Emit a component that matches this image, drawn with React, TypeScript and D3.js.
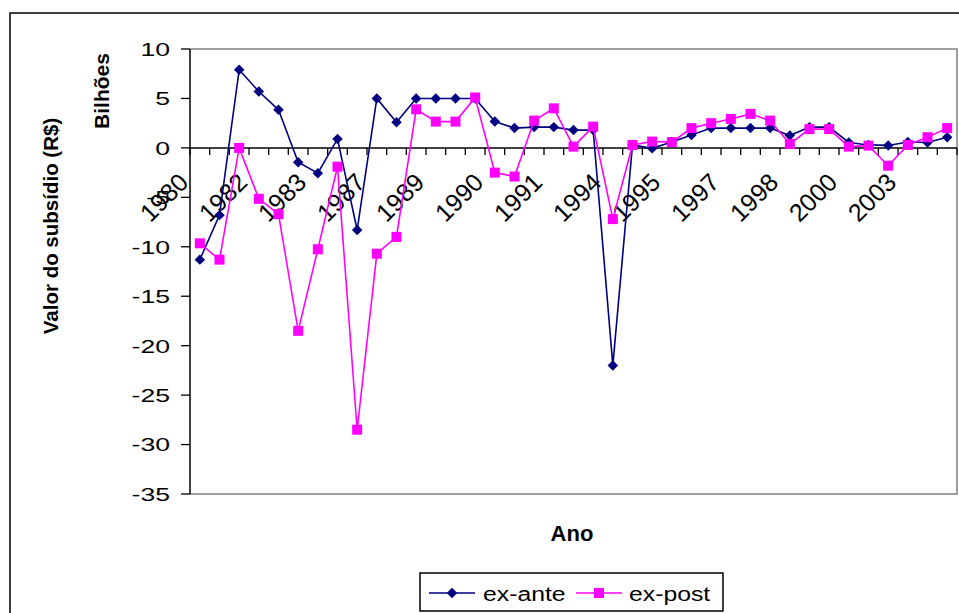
import React, { useEffect, useRef } from "react";
import * as d3 from "d3";

const categoryCount = 39;
const tickLabels = ["1980", "1982", "1983", "1987", "1989", "1990", "1991", "1994", "1995", "1997", "1998", "2000", "2003"];
const tickLabelStep = 3;

const exAnte = [
  -11.3, -6.8, 7.9, 5.7, 3.85, -1.45, -2.56, 0.91, -8.3, 5.0,
  2.6, 5.0, 5.0, 5.0, 5.0, 2.66, 2.0, 2.1, 2.1, 1.8,
  1.8, -22.0, 0.3, -0.05, 0.6, 1.3, 2.0, 2.0, 2.0, 2.0,
  1.25, 2.1, 2.1, 0.55, 0.3, 0.25, 0.6, 0.55, 1.08,
];
const exPost = [
  -9.65, -11.3, 0.0, -5.15, -6.7, -18.5, -10.25, -1.9, -28.5, -10.7,
  -9.0, 3.9, 2.66, 2.66, 5.1, -2.5, -2.9, 2.76, 4.0, 0.13,
  2.15, -7.2, 0.3, 0.64, 0.58, 2.0, 2.5, 2.93, 3.44, 2.76,
  0.4, 1.9, 1.9, 0.13, 0.23, -1.8, 0.3, 1.08, 2.0,
];
const yTicks = [10, 5, 0, -5, -10, -15, -20, -25, -30, -35];
const seriesNames = ["ex-ante", "ex-post"];

const W = 959;
const H = 613;
const plot = { left: 190, right: 957, top: 49, bottom: 494 };
const FONT = "Arial, 'Liberation Sans', sans-serif";

export default function App() {
  const ref = useRef<SVGSVGElement | null>(null);

  useEffect(() => {
    const svg = d3.select(ref.current);
    svg.selectAll("*").remove();

    const idx = d3.range(categoryCount);
    const x = d3.scaleBand<number>().domain(idx).range([plot.left, plot.right]).padding(0);
    const y = d3.scaleLinear().domain([-35, 10]).range([plot.bottom, plot.top]);
    const cx = (i: number) => (x(i) as number) + x.bandwidth() / 2;

    svg.append("rect").attr("width", W).attr("height", H).attr("fill", "#fff");
    // outer chart border
    svg.append("rect").attr("x", 10).attr("y", 13).attr("width", 1200).attr("height", 1200)
      .attr("fill", "none").attr("stroke", "#000").attr("stroke-width", 1.5);

    // plot area border (gray)
    svg.append("path")
      .attr("d", `M${plot.left},${plot.top}H${plot.right}V${plot.bottom}H${plot.left}`)
      .attr("fill", "none").attr("stroke", "#808080").attr("stroke-width", 1.5);

    // y axis
    svg.append("line").attr("x1", plot.left).attr("x2", plot.left)
      .attr("y1", plot.top).attr("y2", plot.bottom).attr("stroke", "#000").attr("stroke-width", 1.5);
    const yg = svg.append("g");
    yTicks.forEach((t) => {
      yg.append("line").attr("x1", plot.left - 9).attr("x2", plot.left)
        .attr("y1", y(t)).attr("y2", y(t)).attr("stroke", "#000").attr("stroke-width", 1.3);
      yg.append("text").attr("transform", `translate(${plot.left - 20},${y(t)}) scale(1.4,1)`)
        .attr("dy", "0.36em")
        .attr("text-anchor", "end").attr("font-family", FONT).attr("font-size", 19)
        .attr("fill", "#000").text(String(t));
    });

    // x axis at zero
    const y0 = y(0);
    svg.append("line").attr("x1", plot.left).attr("x2", plot.right)
      .attr("y1", y0).attr("y2", y0).attr("stroke", "#000").attr("stroke-width", 1.5);
    d3.range(categoryCount + 1).forEach((i) => {
      const xx = i < categoryCount ? (x(i) as number) : plot.right;
      svg.append("line").attr("x1", xx).attr("x2", xx).attr("y1", y0).attr("y2", y0 + 7)
        .attr("stroke", "#000").attr("stroke-width", 1.3);
    });
    tickLabels.forEach((lab, k) => {
      const i = k * tickLabelStep;
      const ax = cx(i) - 10;
      const ay = y0 + 36;
      svg.append("text").attr("transform", `translate(${ax},${ay}) rotate(-45)`)
        .attr("text-anchor", "end").attr("font-family", FONT).attr("font-size", 25)
        .attr("fill", "#000").text(lab);
    });

    // series
    const line = d3.line<number>().x((_, i) => cx(i)).y((d) => y(d));
    const navy = "#000080";
    const mag = "#FF00FF";
    svg.append("path").datum(exAnte).attr("d", line).attr("fill", "none")
      .attr("stroke", navy).attr("stroke-width", 1.6);
    const diamond = d3.symbol().type(d3.symbolDiamond2).size(70);
    svg.append("g").selectAll("path").data(exAnte).join("path")
      .attr("d", diamond() as string)
      .attr("transform", (d, i) => `translate(${cx(i)},${y(d)})`)
      .attr("fill", navy);

    svg.append("path").datum(exPost).attr("d", line).attr("fill", "none")
      .attr("stroke", mag).attr("stroke-width", 1.6);
    svg.append("g").selectAll("rect").data(exPost).join("rect")
      .attr("x", (d, i) => cx(i) - 5).attr("y", (d) => y(d) - 5)
      .attr("width", 10).attr("height", 10).attr("fill", mag);

    // axis titles
    svg.append("text").attr("x", 572).attr("y", 541)
      .attr("text-anchor", "middle").attr("font-family", FONT).attr("font-weight", "bold")
      .attr("font-size", 22).text("Ano");
    svg.append("text").attr("transform", `translate(58,226) rotate(-90)`)
      .attr("text-anchor", "middle").attr("font-family", FONT).attr("font-weight", "bold")
      .attr("font-size", 20.5).text("Valor do subsídio (R$)");
    svg.append("text").attr("transform", `translate(109,91) rotate(-90)`)
      .attr("text-anchor", "middle").attr("font-family", FONT).attr("font-weight", "bold")
      .attr("font-size", 21).text("Bilhões");

    // legend
    const lg = svg.append("g");
    lg.append("rect").attr("x", 420).attr("y", 573).attr("width", 303).attr("height", 38)
      .attr("fill", "#fff").attr("stroke", "#000").attr("stroke-width", 1.5);
    const ly = 593;
    lg.append("line").attr("x1", 429).attr("x2", 475).attr("y1", ly).attr("y2", ly)
      .attr("stroke", navy).attr("stroke-width", 1.6);
    lg.append("path").attr("d", diamond() as string).attr("transform", `translate(452,${ly})`).attr("fill", navy);
    lg.append("text").attr("transform", `translate(483,${ly}) scale(1.18,1)`).attr("dy", "0.36em")
      .attr("font-family", FONT).attr("font-size", 21).text(seriesNames[0]);
    lg.append("line").attr("x1", 576).attr("x2", 622).attr("y1", ly).attr("y2", ly)
      .attr("stroke", mag).attr("stroke-width", 1.6);
    lg.append("rect").attr("x", 594).attr("y", ly - 5).attr("width", 10).attr("height", 10).attr("fill", mag);
    lg.append("text").attr("transform", `translate(629,${ly}) scale(1.18,1)`).attr("dy", "0.36em")
      .attr("font-family", FONT).attr("font-size", 21).text(seriesNames[1]);
  }, []);

  return (
    <svg ref={ref} width={W} height={H}
      style={{ position: "absolute", left: 0, top: 0, display: "block" }} />
  );
}
